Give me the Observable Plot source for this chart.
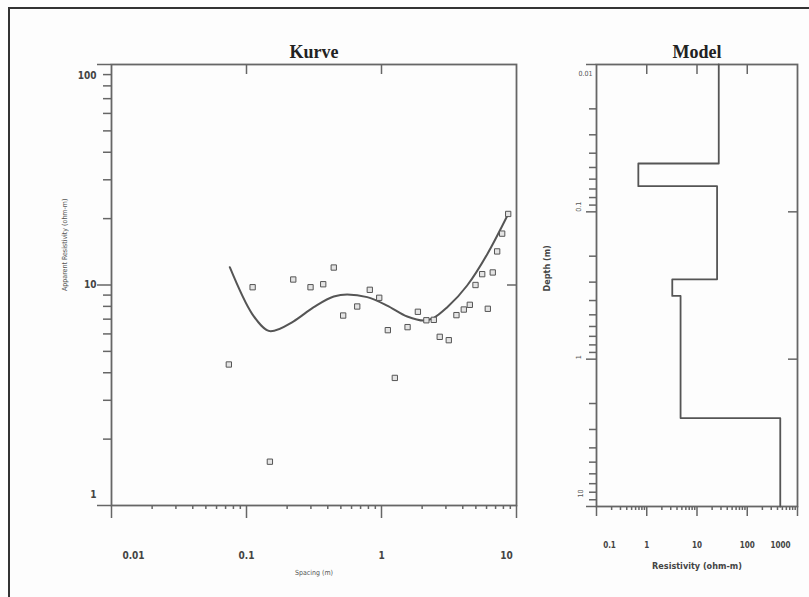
<!DOCTYPE html>
<html><head><meta charset="utf-8">
<script src="https://cdn.jsdelivr.net/npm/d3@7"></script>
<script src="https://cdn.jsdelivr.net/npm/@observablehq/plot@0.6"></script>
<style>
body{margin:0;background:#fff;}
#wrap{position:relative;width:809px;height:597px;overflow:hidden;background:#fdfdfd;}
#border{position:absolute;left:8px;top:7px;width:820px;height:620px;border-left:2px solid #333;border-top:2px solid #333;}
#left{position:absolute;left:0;top:0;}
#right{position:absolute;left:540px;top:0;}
</style></head><body>
<div id="wrap"><div id="border"></div><div id="left"></div><div id="right"></div></div>
<script>
// ---- Kurve: observed apparent resistivity ----
const spacing = [0.074, 0.149, 0.111, 0.222, 0.298, 0.370, 0.443, 0.520, 0.661, 0.819, 0.962, 1.114, 1.255, 1.56, 1.86, 2.15, 2.44, 2.70, 3.15, 3.59, 4.07, 4.51, 4.97, 5.57, 6.13, 6.67, 7.19, 7.83, 8.68];
const appRes  = [4.36, 1.58, 9.77, 10.59, 9.77, 10.08, 12.0, 7.27, 7.99, 9.51, 8.75, 6.24, 3.79, 6.44, 7.56, 6.92, 6.95, 5.82, 5.62, 7.30, 7.74, 8.13, 10.0, 11.2, 7.80, 11.4, 14.2, 17.1, 21.0];
// ---- Kurve: model response curve ----
const curveSpacing = [0.0752, 0.110, 0.151, 0.222, 0.315, 0.443, 0.557, 0.784, 1.10, 1.55, 2.06, 2.44, 3.07, 4.31, 6.07, 8.68];
const curveRes     = [12.04, 7.40, 6.17, 6.83, 7.93, 8.87, 9.06, 8.81, 8.07, 7.20, 6.90, 7.10, 7.93, 9.95, 13.8, 21.0];
// ---- Model: layered resistivity ----
const modelRes = [27.1, 0.68, 25.1, 3.22, 4.71, 454];
const modelTop = [0.01, 0.047, 0.067, 0.287, 0.372, 2.51];
const maxDepth = 10;
// ---- tick labels ----
const kxTicks = [0.01, 0.1, 1, 10];
const kxLabels = ["0.01", "0.1", "1", "10"];
const kyTicks = [1, 10, 100];
const kyLabels = ["1", "10", "100"];
const mxTicks = [0.1, 1, 10, 100, 1000];
const mxLabels = ["0.1", "1", "10", "100", "1000"];
const myTicks = [0.01, 0.1, 1, 10];
const myLabels = ["0.01", "0.1", "1", "10"];

const sans = "'Liberation Sans Narrow','DejaVu Sans Condensed','Liberation Sans',sans-serif";
const serif = "'Liberation Serif','DejaVu Serif',serif";
const axisCol = "#666";
const minor = (lo, hi) => { const o = []; for (let d = lo; d < hi * 0.999; d *= 10) for (let k = 2; k <= 9; k++) o.push(+(d * k).toPrecision(3)); return o; };
const ax = (o) => ({tickFormat: () => "", label: null, stroke: axisCol, strokeWidth: 1.5, ...o});
const lab = (ticks, labels) => ticks.map((t, i) => ({t, s: labels[i]}));

const kx = lab(kxTicks, kxLabels), ky = lab(kyTicks, kyLabels);
const pts = spacing.map((x, i) => ({x, y: appRes[i]}));
const curve = curveSpacing.map((x, i) => ({x, y: curveRes[i]}));

const left = Plot.plot({
  width: 540, height: 597, marginLeft: 111, marginRight: 24, marginTop: 64, marginBottom: 92,
  style: {background: "transparent", fontFamily: sans},
  x: {type: "log", domain: [0.01, 10]},
  y: {type: "log", domain: [1, 100]},
  marks: [
    Plot.axisX(ax({anchor: "bottom", ticks: minor(0.01, 10), tickSize: 4})),
    Plot.axisX(ax({anchor: "bottom", ticks: kxTicks, tickSize: 13})),
    Plot.axisX(ax({anchor: "top", ticks: [0.1, 1], tickSize: -9})),
    Plot.axisY(ax({anchor: "left", ticks: minor(1, 100), tickSize: 8})),
    Plot.axisY(ax({anchor: "left", ticks: kyTicks, tickSize: 14})),
    Plot.axisY(ax({anchor: "right", ticks: [10], tickSize: -10})),
    Plot.frame({stroke: axisCol, strokeWidth: 1.8}),
    Plot.line(curve, {x: "x", y: "y", curve: "monotone-x", stroke: "#555", strokeWidth: 2}),
    Plot.dot(pts, {x: "x", y: "y", symbol: "square", r: 3, fill: "#e4e4e4", stroke: "#555", strokeWidth: 1}),
    // tick labels
    Plot.text(kx.slice(1, 3), {x: "t", text: "s", frameAnchor: "bottom", dy: 53, fontSize: 10, fontWeight: "bold", fill: "#444"}),
    Plot.text(kx.slice(0, 1), {x: "t", text: "s", frameAnchor: "bottom", dy: 53, dx: 22, fontSize: 10, fontWeight: "bold", fill: "#444"}),
    Plot.text(kx.slice(3), {x: "t", text: "s", frameAnchor: "bottom", dy: 53, dx: -10, fontSize: 10, fontWeight: "bold", fill: "#444"}),
    Plot.text(ky.slice(1, 2), {y: "t", text: "s", frameAnchor: "left", dx: -15, textAnchor: "end", fontSize: 10, fontWeight: "bold", fill: "#444"}),
    Plot.text(ky.slice(2), {y: "t", text: "s", frameAnchor: "left", dx: -15, dy: 11, textAnchor: "end", fontSize: 10, fontWeight: "bold", fill: "#444"}),
    Plot.text(ky.slice(0, 1), {y: "t", text: "s", frameAnchor: "left", dx: -15, dy: -11, textAnchor: "end", fontSize: 10, fontWeight: "bold", fill: "#444"}),
    // titles & axis labels
    Plot.text(["Kurve"], {frameAnchor: "top", dy: -19, fontSize: 18, fontWeight: "bold", fontFamily: serif, fill: "#222"}),
    Plot.text(["Spacing (m)"], {frameAnchor: "bottom", dy: 69, fontSize: 7, fill: "#555"}),
    Plot.text(["Apparent Resistivity (ohm-m)"], {frameAnchor: "left", dx: -47, dy: 6, rotate: -90, fontSize: 7, fill: "#555"})
  ]
});
document.getElementById("left").appendChild(left);

const modelPts = modelRes.flatMap((r, i) => [{r, d: modelTop[i]}, {r, d: i + 1 < modelTop.length ? modelTop[i + 1] : maxDepth}]);
const mx = lab(mxTicks, mxLabels), my = lab(myTicks, myLabels);

const right = Plot.plot({
  width: 269, height: 597, marginLeft: 56, marginRight: 12, marginTop: 64, marginBottom: 91,
  style: {background: "transparent", fontFamily: sans},
  x: {type: "log", domain: [0.1, 1000]},
  y: {type: "log", domain: [0.01, 10], reverse: true},
  marks: [
    Plot.axisX(ax({anchor: "bottom", ticks: minor(0.1, 1000), tickSize: 4})),
    Plot.axisX(ax({anchor: "bottom", ticks: mxTicks, tickSize: 10})),
    Plot.axisX(ax({anchor: "top", ticks: [1, 10, 100], tickSize: -9})),
    Plot.axisY(ax({anchor: "left", ticks: minor(0.01, 10), tickSize: 7})),
    Plot.axisY(ax({anchor: "left", ticks: myTicks, tickSize: 10})),
    Plot.axisY(ax({anchor: "right", ticks: [0.1, 1], tickSize: -10})),
    Plot.frame({stroke: axisCol, strokeWidth: 1.8}),
    Plot.line(modelPts, {x: "r", y: "d", stroke: "#555", strokeWidth: 1.8}),
    Plot.text(mx.slice(1, 4), {x: "t", text: "s", frameAnchor: "bottom", dy: 41, fontSize: 8, fontWeight: "bold", fill: "#444"}),
    Plot.text(mx.slice(0, 1), {x: "t", text: "s", frameAnchor: "bottom", dy: 41, dx: 13, fontSize: 8, fontWeight: "bold", fill: "#444"}),
    Plot.text(mx.slice(4), {x: "t", text: "s", frameAnchor: "bottom", dy: 41, dx: -17, fontSize: 8, fontWeight: "bold", fill: "#444"}),
    Plot.text(my.slice(1, 3), {y: "t", text: "s", frameAnchor: "left", dx: -18, rotate: -90, fontSize: 7, fill: "#555"}),
    Plot.text(my.slice(0, 1), {y: "t", text: "s", frameAnchor: "left", dx: -18, dy: 9, fontSize: 7, fill: "#555"}),
    Plot.text(my.slice(3), {y: "t", text: "s", frameAnchor: "left", dx: -16, dy: -9, rotate: -90, fontSize: 7, fill: "#555"}),
    Plot.text(["Model"], {frameAnchor: "top", dy: -19, fontSize: 18, fontWeight: "bold", fontFamily: serif, fill: "#222"}),
    Plot.text(["Resistivity (ohm-m)"], {frameAnchor: "bottom", dy: 62, fontSize: 9, fontWeight: "bold", fill: "#444"}),
    Plot.text(["Depth (m)"], {frameAnchor: "left", dx: -49, dy: 6, rotate: -90, fontSize: 9, fontWeight: "bold", fill: "#444"})
  ]
});
document.getElementById("right").appendChild(right);
</script>
</body></html>
